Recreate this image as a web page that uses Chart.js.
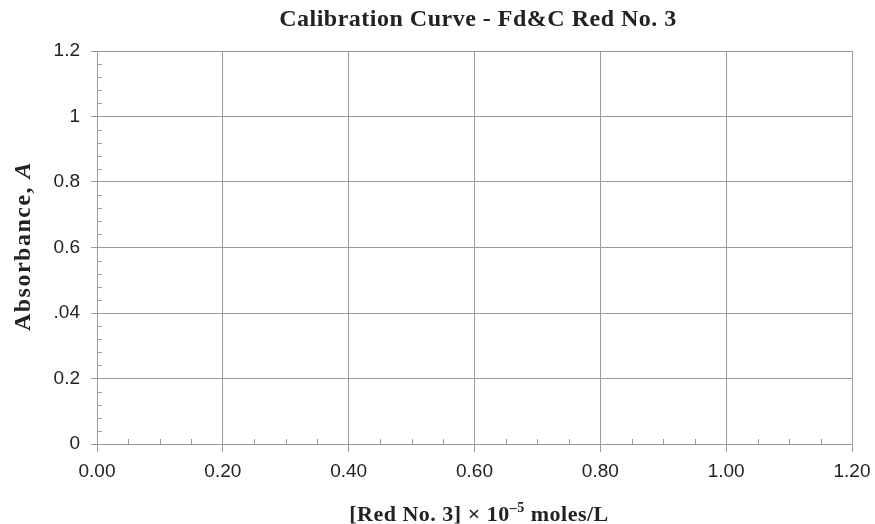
<!DOCTYPE html>
<html>
<head>
<meta charset="utf-8">
<script src="https://cdn.jsdelivr.net/npm/chart.js@4.4.0/dist/chart.umd.min.js"></script>
<style>
  html, body { margin: 0; padding: 0; background: #fff; }
  #wrap { width: 875px; height: 524px; }
</style>
</head>
<body>
<div id="wrap"><canvas id="calibChart" width="875" height="524"></canvas></div>
<script>
// dữ liệu (biểu đồ trống, chưa có điểm đo)
const concentrations = [];
const absorbances = [];
const xTickValues = [0, 0.2, 0.4, 0.6, 0.8, 1.0, 1.2];
const xTickLabels = ["0.00", "0.20", "0.40", "0.60", "0.80", "1.00", "1.20"];
const yTickValues = [0, 0.2, 0.4, 0.6, 0.8, 1.0, 1.2];
const yTickLabels = ["0", "0.2", ".04", "0.6", "0.8", "1", "1.2"];
const xMinorStep = 0.05;
const yMinorStep = 0.04;

const chartTitle = "Calibration Curve - Fd&C Red No. 3";
const xTitleParts = ["[Red No. 3] × 10", "–5", " moles/L"];
const yTitleParts = ["Absorbance, ", "A"];

const gridColor = "#9a9a9a";
const textColor = "#222";
const serif = "'Liberation Serif', 'Times New Roman', serif";

function labelFor(values, labels, v) {
  const i = values.findIndex((t) => Math.abs(t - v) < 1e-6);
  return i >= 0 ? labels[i] : "";
}

// vẽ vạch chia phụ bên trong vùng biểu đồ
const minorTicks = {
  id: "minorTicks",
  afterDraw(chart) {
    const ctx = chart.ctx;
    const x = chart.scales.x;
    const y = chart.scales.y;
    ctx.save();
    ctx.strokeStyle = gridColor;
    ctx.lineWidth = 1;
    ctx.beginPath();
    for (let v = xMinorStep; v < x.max - 1e-6; v += xMinorStep) {
      if (xTickValues.some((t) => Math.abs(t - v) < 1e-6)) continue;
      const px = Math.round(x.getPixelForValue(v)) + 0.5;
      ctx.moveTo(px, y.bottom);
      ctx.lineTo(px, y.bottom - 5);
    }
    for (let v = yMinorStep; v < y.max - 1e-6; v += yMinorStep) {
      if (yTickValues.some((t) => Math.abs(t - v) < 1e-6)) continue;
      const py = Math.round(y.getPixelForValue(v)) + 0.5;
      ctx.moveTo(x.left, py);
      ctx.lineTo(x.left + 5, py);
    }
    ctx.stroke();
    ctx.restore();
  },
};

// tiêu đề + nhãn trục (chữ nghiêng, chỉ số trên)
const titles = {
  id: "titles",
  afterDraw(chart) {
    const ctx = chart.ctx;
    const area = chart.chartArea;
    ctx.save();
    ctx.fillStyle = textColor;
    ctx.textBaseline = "alphabetic";
    ctx.textAlign = "left";

    // tiêu đề chính
    ctx.letterSpacing = "0.5px";
    ctx.font = "bold 24px " + serif;
    let w = ctx.measureText(chartTitle).width;
    ctx.fillText(chartTitle, 478 - w / 2, 26);

    // nhãn trục x
    ctx.letterSpacing = "0.5px";
    const big = "bold 22px " + serif;
    const small = "bold 14px " + serif;
    ctx.font = big;
    const w0 = ctx.measureText(xTitleParts[0]).width;
    const w2 = ctx.measureText(xTitleParts[2]).width;
    ctx.font = small;
    const w1 = ctx.measureText(xTitleParts[1]).width;
    let cx = 479 - (w0 + w1 + w2) / 2;
    ctx.font = big;
    ctx.fillText(xTitleParts[0], cx, 521);
    ctx.font = small;
    ctx.fillText(xTitleParts[1], cx + w0, 512);
    ctx.font = big;
    ctx.fillText(xTitleParts[2], cx + w0 + w1, 521);

    // nhãn trục y
    ctx.translate(30, 246);
    ctx.rotate(-Math.PI / 2);
    ctx.letterSpacing = "1.5px";
    ctx.font = "bold 24px " + serif;
    const a = ctx.measureText(yTitleParts[0]).width;
    ctx.font = "italic bold 24px " + serif;
    const b = ctx.measureText(yTitleParts[1]).width;
    const sx = -(a + b) / 2;
    ctx.font = "bold 24px " + serif;
    ctx.fillText(yTitleParts[0], sx, 0);
    ctx.font = "italic bold 24px " + serif;
    ctx.fillText(yTitleParts[1], sx + a, 0);
    ctx.restore();
  },
};

const ctxCalib = document.getElementById("calibChart").getContext("2d");
new Chart(ctxCalib, {
  type: "scatter",
  data: {
    datasets: [
      {
        label: "Red No. 3",
        data: concentrations.map((c, i) => ({ x: c, y: absorbances[i] })),
        backgroundColor: "#000",
      },
    ],
  },
  options: {
    responsive: false,
    animation: false,
    layout: { padding: { top: 51, right: 23, bottom: 0, left: 0 } },
    plugins: {
      legend: { display: false },
      tooltip: { enabled: false },
      title: { display: false },
    },
    scales: {
      x: {
        type: "linear",
        min: 0,
        max: 1.2,
        afterBuildTicks: (scale) => {
          scale.ticks = xTickValues.map((v) => ({ value: v }));
        },
        afterFit: (scale) => {
          scale.height = 80;
          scale.paddingLeft = 0;
          scale.paddingRight = 0;
        },
        ticks: {
          color: textColor,
          font: { family: "Liberation Sans", size: 19 },
          padding: 8,
          maxRotation: 0,
          callback: (v) => labelFor(xTickValues, xTickLabels, v),
        },
        grid: { color: gridColor, tickLength: 8, tickColor: gridColor },
        border: { color: gridColor },
      },
      y: {
        type: "linear",
        min: 0,
        max: 1.2,
        afterBuildTicks: (scale) => {
          scale.ticks = yTickValues.map((v) => ({ value: v }));
        },
        afterFit: (scale) => {
          scale.width = 97;
          scale.paddingTop = 0;
          scale.paddingBottom = 0;
        },
        ticks: {
          color: textColor,
          font: { family: "Liberation Sans", size: 19 },
          padding: 11,
          callback: (v) => labelFor(yTickValues, yTickLabels, v),
        },
        grid: { color: gridColor, tickLength: 6, tickColor: gridColor },
        border: { color: gridColor },
      },
    },
  },
  plugins: [minorTicks, titles],
});
</script>
</body>
</html>
